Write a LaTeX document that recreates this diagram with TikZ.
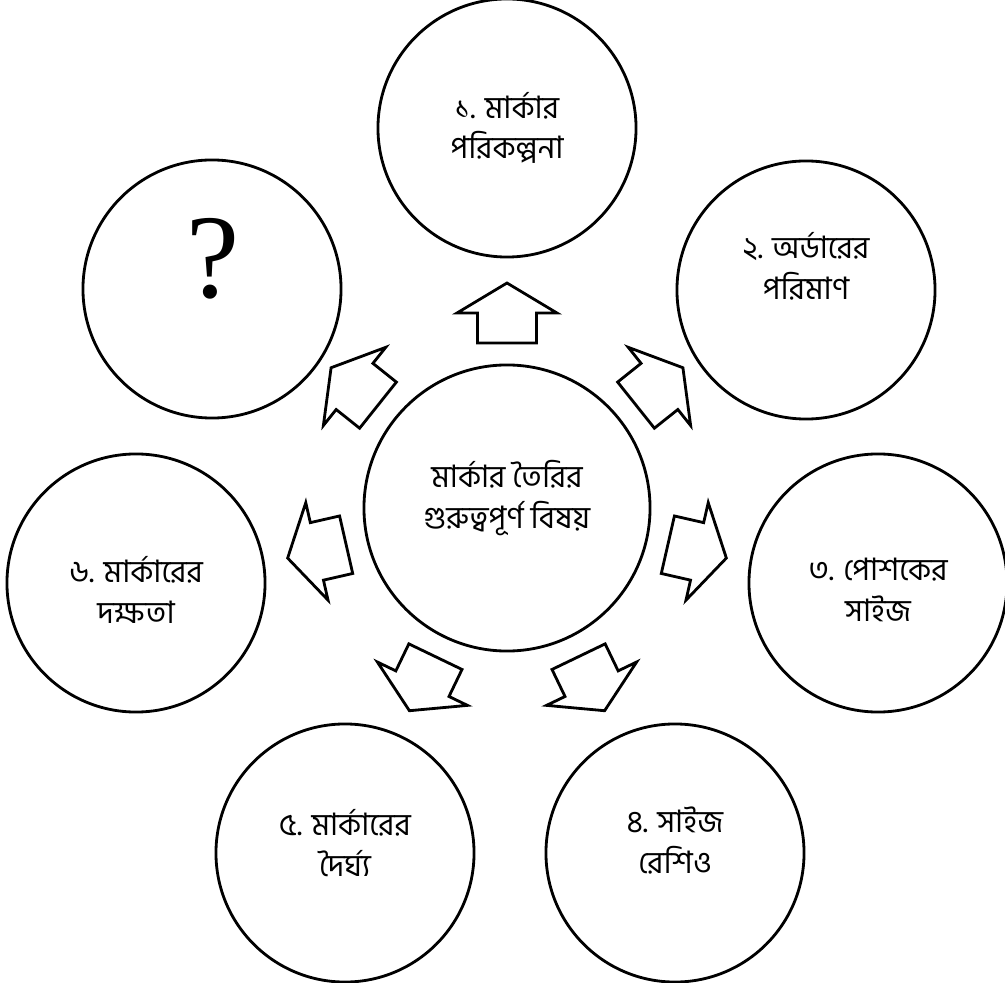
\documentclass[tikz,border=0pt]{standalone}
\usepackage{fontspec}
\newfontfamily\bnfont[Script=Bengali]{Hind Siliguri}
\newfontfamily\qfont{Liberation Serif}
\usetikzlibrary{positioning}

\begin{document}
\begin{tikzpicture}[x=0.025cm, y=0.025cm, line width=2pt,
  topic/.style={draw, circle, minimum size=6.45cm, inner sep=0pt},
  hub/.style={topic, minimum size=7.15cm},
  caption/.style={align=center, inner sep=0pt, font=\bnfont\fontsize{22}{26}\selectfont}]
\useasboundingbox (0,0) rectangle (1005,982);
\fill[white] (0,0) rectangle (1005,982);
% centre and the seven topics
\node[hub] (hub) at (507,474) {};
\node[topic] (plan) at (507,854) {};
\node[topic] (order) at (806,692) {};
\node[topic] (size) at (878,399) {};
\node[topic] (ratio) at (675,129) {};
\node[topic] (length) at (345,129) {};
\node[topic] (skill) at (136,399) {};
\node[topic] (unknown) at (212,693) {};
% texts
\node[caption] (hub text) at ([yshift=0.25cm]hub.center) {মার্কার তৈরির\\[3pt]গুরুত্বপূর্ণ বিষয়};
\node[caption] (plan text) at (plan.center) {১. মার্কার\\[3pt]পরিকল্পনা};
\node[caption] (order text) at ([yshift=0.6cm]order.center) {২. অর্ডারের\\[3pt]পরিমাণ};
\node[caption] (size text) at ([yshift=-0.18cm]size.center) {৩. পোশকের\\[3pt]সাইজ};
\node[caption] (ratio text) at ([yshift=0.32cm]ratio.center) {৪. সাইজ\\[3pt]রেশিও};
\node[caption] (length text) at ([yshift=0.25cm]length.center) {৫. মার্কারের\\[3pt]দৈর্ঘ্য};
\node[caption] (skill text) at ([yshift=-0.18cm]skill.center) {৬. মার্কারের\\[3pt]দক্ষতা};
\node[inner sep=0pt, font=\qfont\fontsize{85}{85}\selectfont] (unknown text) at (213,723) {?};
% block arrows from the centre
\foreach \a in {90, 38.57, -12.86, -64.29, -115.71, -167.14, 141.43}
  \draw[shift={(hub.center)}, rotate=\a] (165,-29.5) -- (195,-29.5) -- (195,-50)
    -- (225,0) -- (195,50) -- (195,29.5) -- (165,29.5) -- cycle;
\end{tikzpicture}
\end{document}
